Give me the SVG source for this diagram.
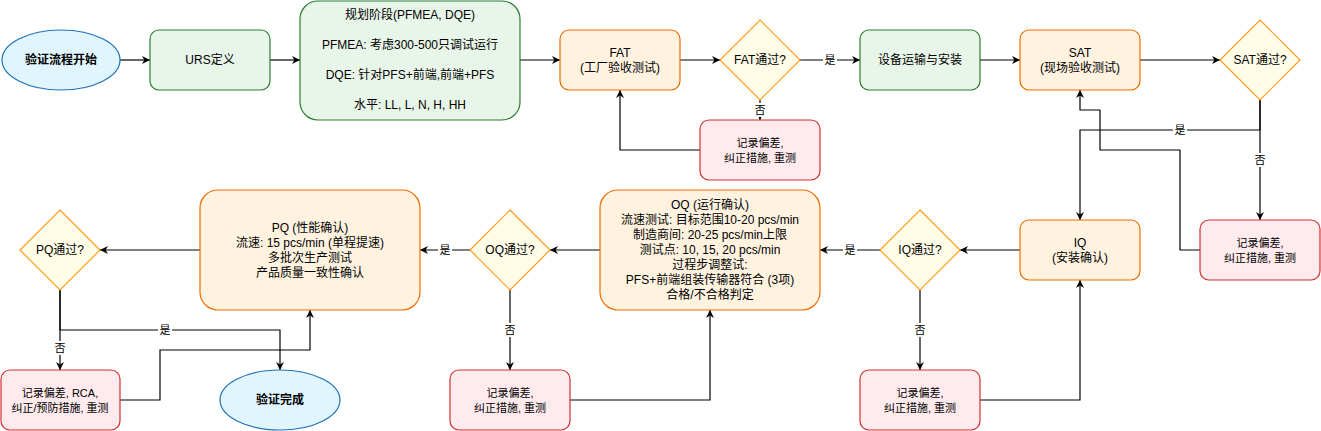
<svg xmlns="http://www.w3.org/2000/svg" width="1321" height="431" viewBox="0 0 1321 431">
<style>
text{font-family:"Liberation Sans","Noto Sans CJK SC",sans-serif;font-size:12px;fill:#000;text-anchor:middle;dominant-baseline:central}
.b{font-weight:bold}
.s{font-size:11px}
.term{fill:#e1f5fe;stroke:#1f72b8;stroke-width:1.2}
.green{fill:#e8f5e9;stroke:#2e7d32;stroke-width:1.2}
.orange{fill:#fff3e0;stroke:#ef6c00;stroke-width:1.2}
.dia{fill:#fffde7;stroke:#ff9a1f;stroke-width:1.2}
.red{fill:#ffebee;stroke:#d32f2f;stroke-width:1.2}
.e{fill:none;stroke:#000;stroke-width:1.2;marker-end:url(#arr)}
.lb{fill:#fff;stroke:none}
</style>
<defs>
<marker id="arr" viewBox="0 0 10 10" refX="10" refY="5" markerWidth="8" markerHeight="8" orient="auto" markerUnits="userSpaceOnUse"><path d="M0,0 L10,5 L0,10 L3,5 Z" fill="#000"/></marker>
</defs>
<rect width="1321" height="431" fill="#fff"/>
<g id="connectors">
<path class="e" d="M120,60 H150"/>
<path class="e" d="M270,60 H300"/>
<path class="e" d="M520,60 H560"/>
<path class="e" d="M680,60 H720"/>
<path class="e" d="M800,60 H860"/>
<path class="e" d="M760,100 V120"/>
<path class="e" d="M700,150 H620 V90"/>
<path class="e" d="M980,60 H1020"/>
<path class="e" d="M1140,60 H1220"/>
<path class="e" d="M1260,100 V130 H1080 V220"/>
<path class="e" d="M1260,100 V220"/>
<path class="e" d="M1200,250 H1180 V150 H1100 V110 H1080 V90"/>
<path class="e" d="M1020,250 H960"/>
<path class="e" d="M880,250 H820"/>
<path class="e" d="M920,290 V370"/>
<path class="e" d="M980,400 H1080 V280"/>
<path class="e" d="M600,250 H550"/>
<path class="e" d="M470,250 H420"/>
<path class="e" d="M510,290 V370"/>
<path class="e" d="M570,400 H710 V310"/>
<path class="e" d="M200,250 H100"/>
<path class="e" d="M60,290 V330 H280 V370"/>
<path class="e" d="M60,290 V370"/>
<path class="e" d="M120,400 H160 V350 H310 V310"/>
<g id="edge-labels">
<rect class="lb" x="823" y="53" width="14" height="14"/><text class="s" x="830" y="60">是</text>
<rect class="lb" x="753" y="103" width="14" height="14"/><text class="s" x="760" y="110">否</text>
<rect class="lb" x="1173" y="123" width="14" height="14"/><text class="s" x="1180" y="130">是</text>
<rect class="lb" x="1253" y="153" width="14" height="14"/><text class="s" x="1260" y="160">否</text>
<rect class="lb" x="843" y="243" width="14" height="14"/><text class="s" x="850" y="250">是</text>
<rect class="lb" x="913" y="323" width="14" height="14"/><text class="s" x="920" y="330">否</text>
<rect class="lb" x="438" y="243" width="14" height="14"/><text class="s" x="445" y="250">是</text>
<rect class="lb" x="503" y="323" width="14" height="14"/><text class="s" x="510" y="330">否</text>
<rect class="lb" x="158" y="323" width="14" height="14"/><text class="s" x="165" y="330">是</text>
<rect class="lb" x="53" y="341" width="14" height="14"/><text class="s" x="60" y="348">否</text>
</g>
</g>
<g id="start"><ellipse class="term" cx="61" cy="60" rx="59" ry="30"/><text class="b" x="61" y="60">验证流程开始</text></g>
<g id="urs"><rect class="green" x="150" y="30" width="120" height="60" rx="9"/><text x="210" y="60">URS定义</text></g>
<g id="plan"><rect class="green" x="300" y="1" width="220" height="119" rx="18"/>
<text x="410" y="15">规划阶段(PFMEA, DQE)</text>
<text x="410" y="45">PFMEA: 考虑300-500只调试运行</text>
<text x="410" y="75">DQE: 针对PFS+前端,前端+PFS</text>
<text x="410" y="105">水平: LL, L, N, H, HH</text></g>
<g id="fat"><rect class="orange" x="560" y="30" width="120" height="60" rx="9"/><text x="620" y="52.5">FAT</text><text x="620" y="67.5">(工厂验收测试)</text></g>
<g id="fat-dec"><path class="dia" d="M760,20 L800,60 L760,100 L720,60 Z"/><text x="760" y="60">FAT通过?</text></g>
<g id="fat-fix"><rect class="red" x="700" y="120" width="120" height="60" rx="9"/><text class="s" x="760" y="142.5">记录偏差,</text><text class="s" x="760" y="157.5">纠正措施, 重测</text></g>
<g id="ship"><rect class="green" x="860" y="30" width="120" height="60" rx="9"/><text x="920" y="60">设备运输与安装</text></g>
<g id="sat"><rect class="orange" x="1020" y="30" width="120" height="60" rx="9"/><text x="1080" y="52.5">SAT</text><text x="1080" y="67.5">(现场验收测试)</text></g>
<g id="sat-dec"><path class="dia" d="M1260,20 L1300,60 L1260,100 L1220,60 Z"/><text x="1260" y="60">SAT通过?</text></g>
<g id="sat-fix"><rect class="red" x="1200" y="220" width="120" height="60" rx="9"/><text class="s" x="1260" y="242.5">记录偏差,</text><text class="s" x="1260" y="257.5">纠正措施, 重测</text></g>
<g id="iq"><rect class="orange" x="1020" y="220" width="120" height="60" rx="9"/><text x="1080" y="242.5">IQ</text><text x="1080" y="257.5">(安装确认)</text></g>
<g id="iq-dec"><path class="dia" d="M920,210 L960,250 L920,290 L880,250 Z"/><text x="920" y="250">IQ通过?</text></g>
<g id="iq-fix"><rect class="red" x="860" y="370" width="120" height="60" rx="9"/><text class="s" x="920" y="392.5">记录偏差,</text><text class="s" x="920" y="407.5">纠正措施, 重测</text></g>
<g id="oq"><rect class="orange" x="600" y="190" width="220" height="120" rx="18"/>
<text x="710" y="205">OQ (运行确认)</text>
<text x="710" y="220">流速测试: 目标范围10-20 pcs/min</text>
<text x="710" y="235">制造商间: 20-25 pcs/min上限</text>
<text x="710" y="250">测试点: 10, 15, 20 pcs/min</text>
<text x="710" y="265">过程步调整试:</text>
<text x="710" y="280">PFS+前端组装传输器符合 (3项)</text>
<text x="710" y="295">合格/不合格判定</text></g>
<g id="oq-dec"><path class="dia" d="M510,210 L550,250 L510,290 L470,250 Z"/><text x="510" y="250">OQ通过?</text></g>
<g id="oq-fix"><rect class="red" x="450" y="370" width="120" height="60" rx="9"/><text class="s" x="510" y="392.5">记录偏差,</text><text class="s" x="510" y="407.5">纠正措施, 重测</text></g>
<g id="pq"><rect class="orange" x="200" y="190" width="220" height="120" rx="18"/>
<text x="310" y="227.5">PQ (性能确认)</text>
<text x="310" y="242.5">流速: 15 pcs/min (单程提速)</text>
<text x="310" y="257.5">多批次生产测试</text>
<text x="310" y="272.5">产品质量一致性确认</text></g>
<g id="pq-dec"><path class="dia" d="M60,210 L100,250 L60,290 L20,250 Z"/><text x="60" y="250">PQ通过?</text></g>
<g id="pq-fix"><rect class="red" x="1" y="370" width="119" height="60" rx="9"/><text class="s" x="60" y="392.5">记录偏差, RCA,</text><text class="s" x="60" y="407.5">纠正/预防措施, 重测</text></g>
<g id="end"><ellipse class="term" cx="280" cy="400" rx="60" ry="30"/><text class="b" x="280" y="400">验证完成</text></g>
</svg>
